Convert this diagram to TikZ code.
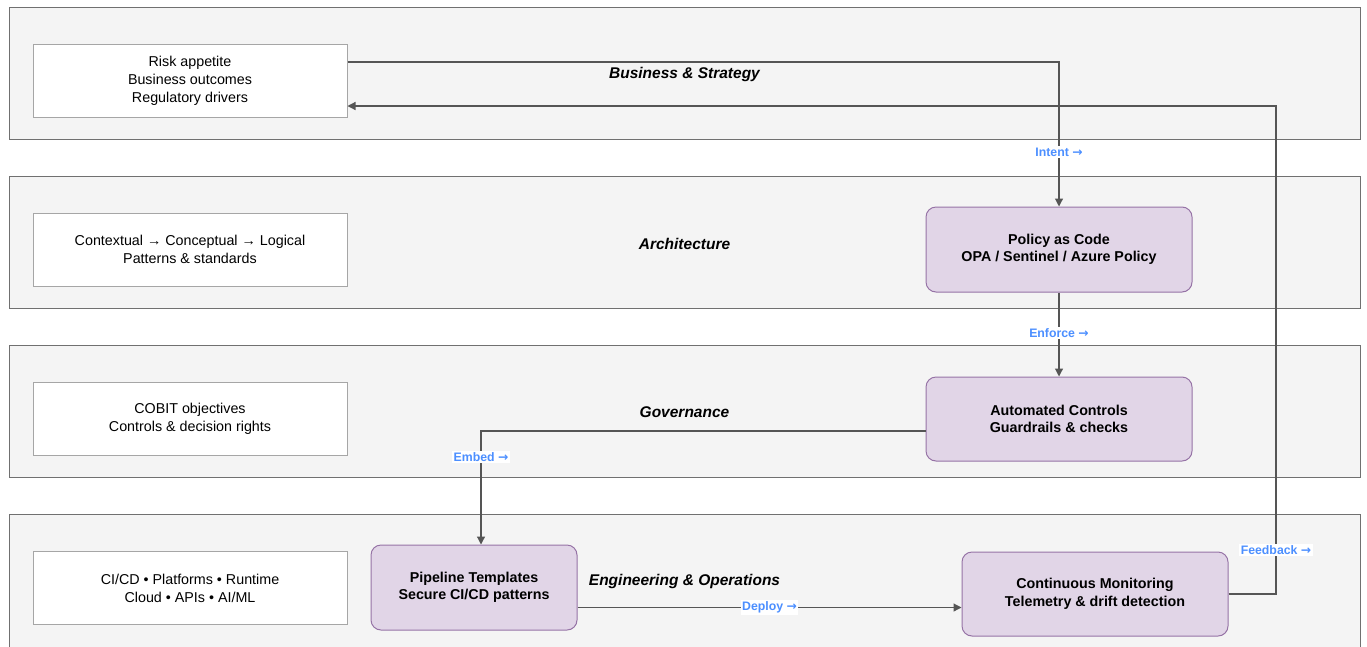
\documentclass[tikz,border=0pt]{standalone}
\usepackage{fontspec}
\setmainfont{Liberation Sans}
\newfontfamily\arrowfont{DejaVu Sans}
\newcommand{\tagarrow}{{\arrowfont\bfseries →}}
\usetikzlibrary{arrows.meta}
\definecolor{lanefill}{HTML}{F4F4F4}
\definecolor{lanedraw}{HTML}{707070}
\definecolor{boxdraw}{HTML}{A6A6A6}
\definecolor{purfill}{HTML}{E1D5E7}
\definecolor{purdraw}{HTML}{9673A6}
\definecolor{wire}{HTML}{555555}
\definecolor{tagblue}{HTML}{4C8FFF}
\tikzset{
  lane/.style={draw=lanedraw, fill=lanefill, line width=1pt, minimum width=1351pt, minimum height=132pt, inner sep=0pt},
  lanetitle/.style={font=\fontsize{15.5}{18}\selectfont\bfseries\itshape, text=black},
  infobox/.style={draw=boxdraw, fill=white, line width=1pt, minimum width=314pt, minimum height=73pt, align=center,
    font=\fontsize{14.3}{18}\selectfont, inner sep=0pt},
  actbox/.style={draw=purdraw, fill=purfill, line width=1pt, rounded corners=10pt, minimum height=85pt, align=center,
    font=\fontsize{14.3}{17.5}\selectfont\bfseries, inner sep=0pt},
  conn/.style={draw=wire, line width=1.2pt, -{Triangle[length=8pt,width=8pt]}},
  tag/.style={fill=white, text=tagblue, font=\fontsize{12.3}{14}\selectfont\bfseries, inner sep=1.5pt}
}
\begin{document}
\begin{tikzpicture}[x=1pt, y=-1pt]
\useasboundingbox (0,0) rectangle (1367,646);
\clip (0,0) rectangle (1367,646);
\fill[white] (0,0) rectangle (1367,646);

% swimlanes
\node[lane] (lane1) at (684.5,73) {};
\node[lane] (lane2) at (684.5,242.5) {};
\node[lane] (lane3) at (684.5,411.5) {};
\node[lane, minimum height=140pt] (lane4) at (684.5,584) {};
\node[lanetitle] (t1) at (684.5,74.5) {Business \& Strategy};
\node[lanetitle] (t2) at (684.5,243.5) {Architecture};
\node[lanetitle] (t3) at (684.5,412.5) {Governance};
\node[lanetitle] (t4) at (684.5,581.5) {Engineering \& Operations};

% descriptive boxes on the left
\node[infobox] (b1) at (190,80.5) {Risk appetite\\Business outcomes\\Regulatory drivers};
\node[infobox] (b2) at (190,249.5) {Contextual → Conceptual → Logical\\Patterns \& standards};
\node[infobox] (b3) at (190,419) {COBIT objectives\\Controls \& decision rights};
\node[infobox] (b4) at (190,588) {CI/CD • Platforms • Runtime\\Cloud • APIs • AI/ML};

% automation building blocks
\node[actbox, minimum width=266pt] (policy) at (1059,249.5) {Policy as Code\\OPA / Sentinel / Azure Policy};
\node[actbox, minimum width=266pt, minimum height=84pt] (auto) at (1059,419) {Automated Controls\\Guardrails \& checks};
\node[actbox, minimum width=206pt] (pipe) at (474,587.5) {Pipeline Templates\\Secure CI/CD patterns};
\node[actbox, minimum width=266pt, minimum height=84pt] (mon) at (1095,594) {Continuous Monitoring\\Telemetry \& drift detection};

% flows
\draw[conn] ([yshift=18.5pt]b1.east) -| (policy.north);
\node[tag] (lintent) at (1059,152) {Intent \tagarrow};

\draw[conn] (policy.south) -- (auto.north);
\node[tag] (lenforce) at (1059,333) {Enforce \tagarrow};

\draw[conn] ([yshift=-12pt]auto.west) -| ([xshift=7pt]pipe.north);
\node[tag] (lembed) at (481,457) {Embed \tagarrow};

\draw[conn] ([yshift=-20pt]pipe.east) coordinate (d0) -- (d0 -| mon.west)
  node[tag, midway] (ldeploy) {Deploy \tagarrow};

\coordinate (fbturn) at (1276,106);
\draw[conn] (mon.east) -| (fbturn) -- ([yshift=-25.5pt]b1.east);
\node[tag] (lfeed) at (1276,550) {Feedback \tagarrow};
\end{tikzpicture}
\end{document}
